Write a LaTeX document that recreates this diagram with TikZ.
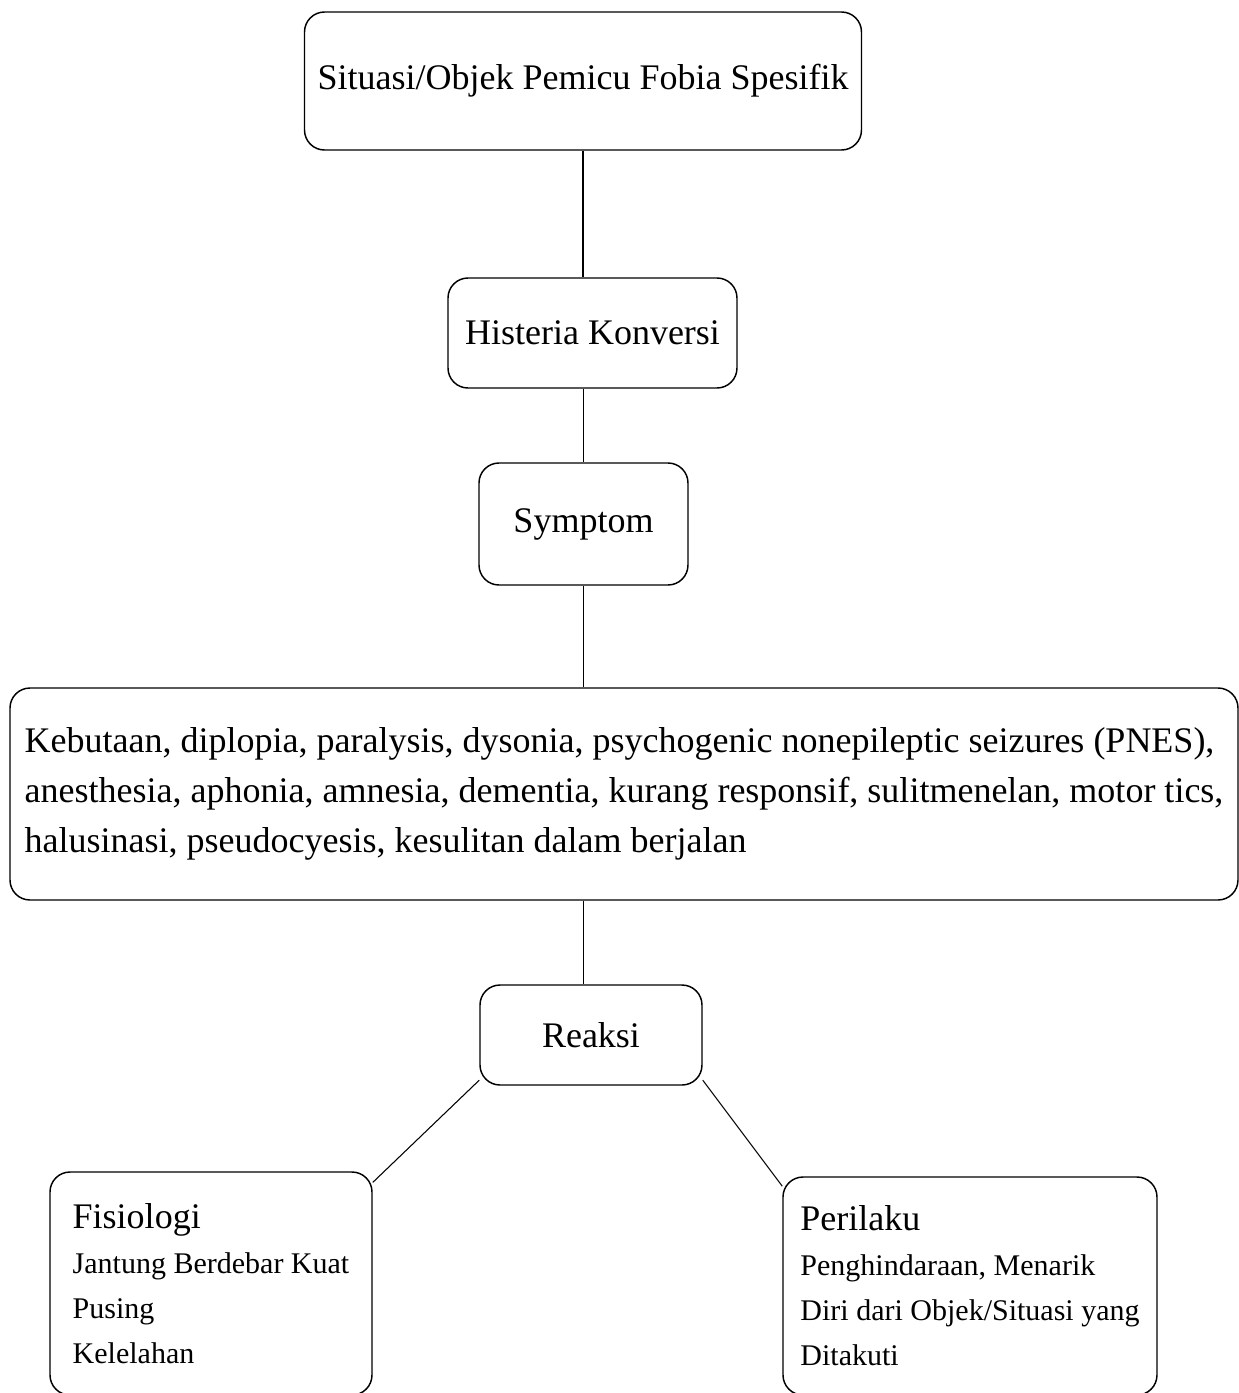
\documentclass[tikz,border=0pt]{standalone}
\usepackage{fontspec}
\setmainfont{Liberation Serif}
\begin{document}
\begin{tikzpicture}[x=0.75pt,y=-0.75pt,
  kotak/.style={draw,line width=1.1pt,rounded corners=15pt,inner sep=0pt,
    font=\fontsize{27}{37.5}\selectfont},
  kecil/.style={font=\fontsize{22.5}{33.75}\selectfont,align=left},
  garis/.style={line width=0.8pt}]
\useasboundingbox (0,0) rectangle (1239,1393);
%lapisan pertama
\node[kotak,minimum width=417.75pt,minimum height=103.5pt] (top) at (583,81) {Situasi/Objek Pemicu Fobia Spesifik};
%lapisan kedua
\node[kotak,minimum width=216.75pt,minimum height=82.5pt] (A) at (592.5,333) {Histeria Konversi};
%lapisan ketiga
\node[kotak,minimum width=156.75pt,minimum height=91.5pt] (B) at (583.5,524) {Symptom};
%lapisan keempat
\node[kotak,align=left,minimum width=921pt,minimum height=159pt] (C) at (624,794)
  {Kebutaan, diplopia, paralysis, dysonia, psychogenic nonepileptic seizures (PNES),\\
   anesthesia, aphonia, amnesia, dementia, kurang responsif, sulitmenelan, motor tics,\\
   halusinasi, pseudocyesis, kesulitan dalam berjalan};
%lapisan kelima
\node[kotak,minimum width=166.5pt,minimum height=75pt] (D) at (591,1035) {Reaksi};
%lapisan bawah
\node[kotak,kecil,minimum width=241.5pt,minimum height=167.25pt] (fis) at (211,1283.5)
  {{\fontsize{27}{35}\selectfont Fisiologi}\\Jantung Berdebar Kuat\\Pusing\\Kelelahan};
\node[kotak,kecil,minimum width=280.5pt,minimum height=163.5pt] (per) at (970,1286)
  {{\fontsize{27}{35}\selectfont Perilaku}\\Penghindaraan, Menarik\\Diri dari Objek/Situasi yang\\Ditakuti};

\draw[garis] (top.south)--(top.south |- A.north);
\draw[garis] (B.north |- A.south)--(B.north);
\draw[garis] (B.south)--(B.south |- C.north);
\draw[garis] (B.south |- C.south)--(B.south |- D.north);
\draw[garis] (D.202)--(fis.32);
\draw[garis] (D.338)--(per.152);
\end{tikzpicture}
\end{document}
